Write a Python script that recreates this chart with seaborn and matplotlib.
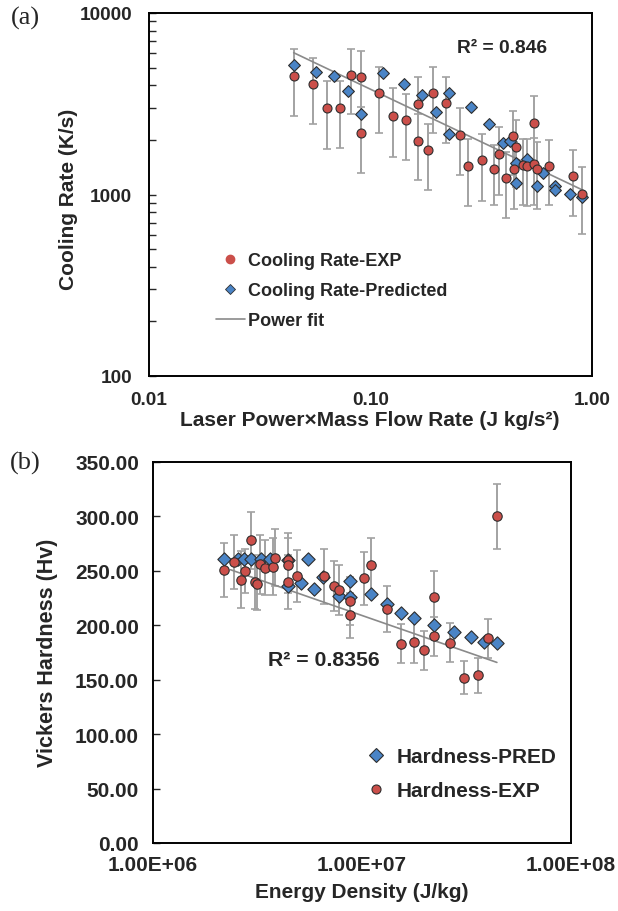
import numpy as np
import pandas as pd
import matplotlib
matplotlib.use("Agg")
import matplotlib.pyplot as plt
import seaborn as sns
from matplotlib.lines import Line2D

# ---------------- Panel (a) data ----------------
a_exp_x = [0.0453, 0.0548, 0.0634, 0.0728, 0.0817, 0.0906, 0.0906, 0.109, 0.127, 0.145,
           0.164, 0.164, 0.182, 0.191, 0.219, 0.254, 0.275, 0.318, 0.362, 0.381,
           0.409, 0.439, 0.454, 0.446, 0.546, 0.486, 0.507, 0.546, 0.566, 0.640,
           0.817, 0.904]
a_exp_y = [4510, 4060, 3000, 3000, 4570, 4460, 2180, 3610, 2720, 2560,
           3150, 1980, 1760, 3610, 3180, 2130, 1440, 1540, 1380, 1670,
           1230, 2090, 1830, 1390, 2470, 1450, 1440, 1470, 1390, 1440,
           1260, 1010]
a_exp_err = [1790, 1600, 1220, 1200, 1780, 1750, 870, 1430, 1120, 1010,
             1270, 780, 700, 1430, 1260, 850, 575, 615, 500, 670,
             490, 810, 730, 560, 1000, 580, 580, 590, 555, 565,
             500, 405]
a_pred_x = [0.0453, 0.0566, 0.0684, 0.0794, 0.0906, 0.1135, 0.142, 0.171, 0.198, 0.227,
            0.227, 0.284, 0.343, 0.395, 0.427, 0.454, 0.454, 0.511, 0.566, 0.598,
            0.681, 0.681, 0.796, 0.904]
a_pred_y = [5170, 4750, 4500, 3730, 2780, 4650, 4050, 3530, 2840, 3620,
            2160, 3020, 2450, 1920, 1980, 1500, 1150, 1570, 1110, 1320,
            1120, 1055, 1003, 969]
a_fit_coef = 1000.0
a_fit_power = -0.58
a_fit_range = [0.045, 0.91]
a_r2 = "R² = 0.846"
a_xticks = [0.01, 0.1, 1.0]
a_xticklabels = ["0.01", "0.10", "1.00"]
a_yticks = [100, 1000, 10000]
a_yticklabels = ["100", "1000", "10000"]
a_legend = ["Cooling Rate-EXP", "Cooling Rate-Predicted", "Power fit"]

# ---------------- Panel (b) data ----------------
b_exp_x = [2.19e6, 2.43e6, 2.63e6, 2.76e6, 2.94e6, 3.08e6, 3.14e6, 3.26e6, 3.42e6, 3.75e6,
           3.85e6, 4.41e6, 4.41e6, 4.41e6, 4.89e6, 6.61e6, 7.32e6, 7.74e6, 8.81e6, 8.81e6,
           1.02e7, 1.10e7, 1.32e7, 1.54e7, 1.77e7, 1.99e7, 2.21e7, 2.21e7, 2.64e7, 3.08e7,
           3.57e7, 3.99e7, 4.42e7]
b_exp_y = [251, 258, 242, 250, 278, 240, 238, 256, 253, 254,
           262, 260, 255, 240, 245, 245, 236, 232, 222, 209,
           243, 255, 215, 183, 185, 177, 226, 190, 184, 152,
           154, 188, 300]
b_exp_err = [25, 25, 26, 20, 26, 25, 24, 27, 25, 26,
             26, 25, 25, 25, 24, 25, 23, 23, 22, 21,
             24, 25, 21, 18, 20, 18, 24, 18, 18, 15,
             16, 18, 30]
b_pred_x = [2.19e6, 2.55e6, 2.74e6, 2.94e6, 3.30e6, 3.64e6, 4.41e6, 4.41e6, 5.13e6, 5.50e6,
            5.87e6, 6.52e6, 7.74e6, 8.81e6, 8.81e6, 1.10e7, 1.32e7, 1.54e7, 1.77e7, 2.21e7,
            2.75e7, 3.31e7, 3.84e7, 4.42e7]
b_pred_y = [261, 261, 261, 261, 261, 261, 260, 236, 239, 261,
            233, 244, 227, 241, 226, 229, 220, 211, 207, 200,
            194, 189, 185, 184]
b_fit_at_1e7 = 209.0
b_fit_per_decade = -66.8
b_fit_range = [2.35e6, 4.42e7]
b_r2 = "R² = 0.8356"
b_xticks = [1e6, 1e7, 1e8]
b_xticklabels = ["1.00E+06", "1.00E+07", "1.00E+08"]
b_yticks = [0, 50, 100, 150, 200, 250, 300, 350]
b_yticklabels = ["0.00", "50.00", "100.00", "150.00", "200.00", "250.00", "300.00", "350.00"]
b_legend = ["Hardness-PRED", "Hardness-EXP"]

# ---------------- styling ----------------
sns.set_style("white")
plt.rcParams['font.family'] = ['Liberation Sans', 'DejaVu Sans']
plt.rcParams['font.weight'] = 'bold'

RED = '#CB4F4A'
BLUE = '#4A84C6'
EDGE = '#2E2E2E'
ERR = '#A2A2A2'
FIT = '#8A8A8A'

W, H = 618, 912
fig = plt.figure(figsize=(W / 100, H / 100), dpi=100)

def fig_box(l, t, r, b):
    return [l / W, 1 - b / H, (r - l) / W, (b - t) / H]

# ---------------- Panel (a) ----------------
axA = fig.add_axes(fig_box(149, 14, 592, 377))
axA.set_xscale('log')
axA.set_yscale('log')
axA.errorbar(a_exp_x, a_exp_y, yerr=a_exp_err, fmt='none', ecolor=ERR,
             elinewidth=1.4, capsize=2.6, capthick=1.2, zorder=1)
dfa_fit_x = np.geomspace(a_fit_range[0], a_fit_range[1], 50)
dfa_fit = pd.DataFrame({'x': dfa_fit_x, 'y': a_fit_coef * dfa_fit_x ** a_fit_power})
sns.lineplot(data=dfa_fit, x='x', y='y', ax=axA, color=FIT, lw=1.2, zorder=2)
sns.scatterplot(x=a_pred_x, y=a_pred_y, ax=axA, marker='D', s=36, color=BLUE,
                edgecolor=EDGE, linewidth=0.8, zorder=3)
sns.scatterplot(x=a_exp_x, y=a_exp_y, ax=axA, marker='o', s=42, color=RED,
                edgecolor=EDGE, linewidth=0.8, zorder=4)
axA.set_xlim(0.01, 1.0)
axA.set_ylim(100, 10000)
axA.set_xticks(a_xticks)
axA.set_xticklabels(a_xticklabels)
axA.set_yticks(a_yticks)
axA.set_yticklabels(a_yticklabels)
axA.xaxis.set_minor_locator(matplotlib.ticker.NullLocator())
axA.yaxis.set_minor_locator(matplotlib.ticker.LogLocator(base=10, subs=np.arange(2, 10)))
axA.yaxis.set_minor_formatter(matplotlib.ticker.NullFormatter())
axA.tick_params(axis='y', which='both', direction='in', length=5, width=1.0,
                left=True, labelsize=13.7, pad=12)
axA.tick_params(axis='x', which='both', length=0, labelsize=13.7, pad=11)
axA.set_xlabel('')
axA.set_ylabel('')
for sp in axA.spines.values():
    sp.set_color('black')
    sp.set_linewidth(1.4)
axA.text(0.797, 0.906, a_r2, transform=axA.transAxes, fontsize=13.8,
         fontweight='bold', ha='center', va='center')
hA = [Line2D([], [], ls='', marker='o', ms=6, mfc=RED, mec=RED),
      Line2D([], [], ls='', marker='D', ms=5.5, mfc=BLUE, mec=EDGE, mew=0.6),
      Line2D([], [], color=FIT, lw=1.2)]
axA.legend(hA, a_legend, loc='upper left', bbox_to_anchor=(216 / W, 1 - 253 / H),
           bbox_transform=fig.transFigure, frameon=False, borderpad=0, borderaxespad=0,
           handlelength=1.6, handletextpad=0.2, labelspacing=0.72,
           prop={'weight': 'bold', 'size': 13})

fig.text(68 / W, 1 - 199 / H, 'Cooling Rate (K/s)', rotation=90, ha='center',
         va='center', fontsize=15, fontweight='bold')
fig.text(370 / W, 1 - 421 / H, 'Laser Power×Mass Flow Rate (J kg/s²)', ha='center',
         va='center', fontsize=15, fontweight='bold')
fig.text(25 / W, 1 - 18 / H, '(a)', ha='center', va='center', fontsize=19,
         family=['Liberation Serif', 'DejaVu Serif'], fontweight='normal')

# ---------------- Panel (b) ----------------
axB = fig.add_axes(fig_box(153, 463, 571, 844))
axB.set_xscale('log')
axB.errorbar(b_exp_x, b_exp_y, yerr=b_exp_err, fmt='none', ecolor=ERR,
             elinewidth=1.4, capsize=2.6, capthick=1.2, zorder=1)
dfb_fit_x = np.geomspace(b_fit_range[0], b_fit_range[1], 50)
dfb_fit = pd.DataFrame({'x': dfb_fit_x,
                        'y': b_fit_at_1e7 + b_fit_per_decade * np.log10(dfb_fit_x / 1e7)})
sns.lineplot(data=dfb_fit, x='x', y='y', ax=axB, color=FIT, lw=1.2, zorder=2)
sns.scatterplot(x=b_pred_x, y=b_pred_y, ax=axB, marker='D', s=46, color=BLUE,
                edgecolor=EDGE, linewidth=0.8, zorder=3)
sns.scatterplot(x=b_exp_x, y=b_exp_y, ax=axB, marker='o', s=46, color=RED,
                edgecolor=EDGE, linewidth=0.8, zorder=4)
axB.set_xlim(1e6, 1e8)
axB.set_ylim(0, 350)
axB.set_xticks(b_xticks)
axB.set_xticklabels(b_xticklabels)
axB.set_yticks(b_yticks)
axB.set_yticklabels(b_yticklabels)
axB.xaxis.set_minor_locator(matplotlib.ticker.NullLocator())
axB.tick_params(axis='y', which='both', direction='in', length=5, width=1.0,
                left=True, labelsize=15, pad=10)
axB.tick_params(axis='x', which='both', length=0, labelsize=15, pad=9)
axB.set_xlabel('')
axB.set_ylabel('')
for sp in axB.spines.values():
    sp.set_color('black')
    sp.set_linewidth(1.4)
fig.text(324 / W, 1 - 661 / H, b_r2, fontsize=15.3, fontweight='bold',
         ha='center', va='center')
hB = [Line2D([], [], ls='', marker='D', ms=7, mfc=BLUE, mec=EDGE, mew=0.8),
      Line2D([], [], ls='', marker='o', ms=6.5, mfc=RED, mec=EDGE, mew=0.8)]
axB.legend(hB, b_legend, loc='upper left', bbox_to_anchor=(366 / W, 1 - 748 / H),
           bbox_transform=fig.transFigure, frameon=False, borderpad=0, borderaxespad=0,
           handlelength=1.0, handletextpad=0.45, labelspacing=0.72,
           prop={'weight': 'bold', 'size': 15})

fig.text(48 / W, 1 - 653 / H, 'Vickers Hardness (Hv)', rotation=90, ha='center',
         va='center', fontsize=15.5, fontweight='bold')
fig.text(362 / W, 1 - 893 / H, 'Energy Density (J/kg)', ha='center',
         va='center', fontsize=15, fontweight='bold')
fig.text(25 / W, 1 - 463 / H, '(b)', ha='center', va='center', fontsize=19,
         family=['Liberation Serif', 'DejaVu Serif'], fontweight='normal')

fig.savefig('out.png', dpi=100)
